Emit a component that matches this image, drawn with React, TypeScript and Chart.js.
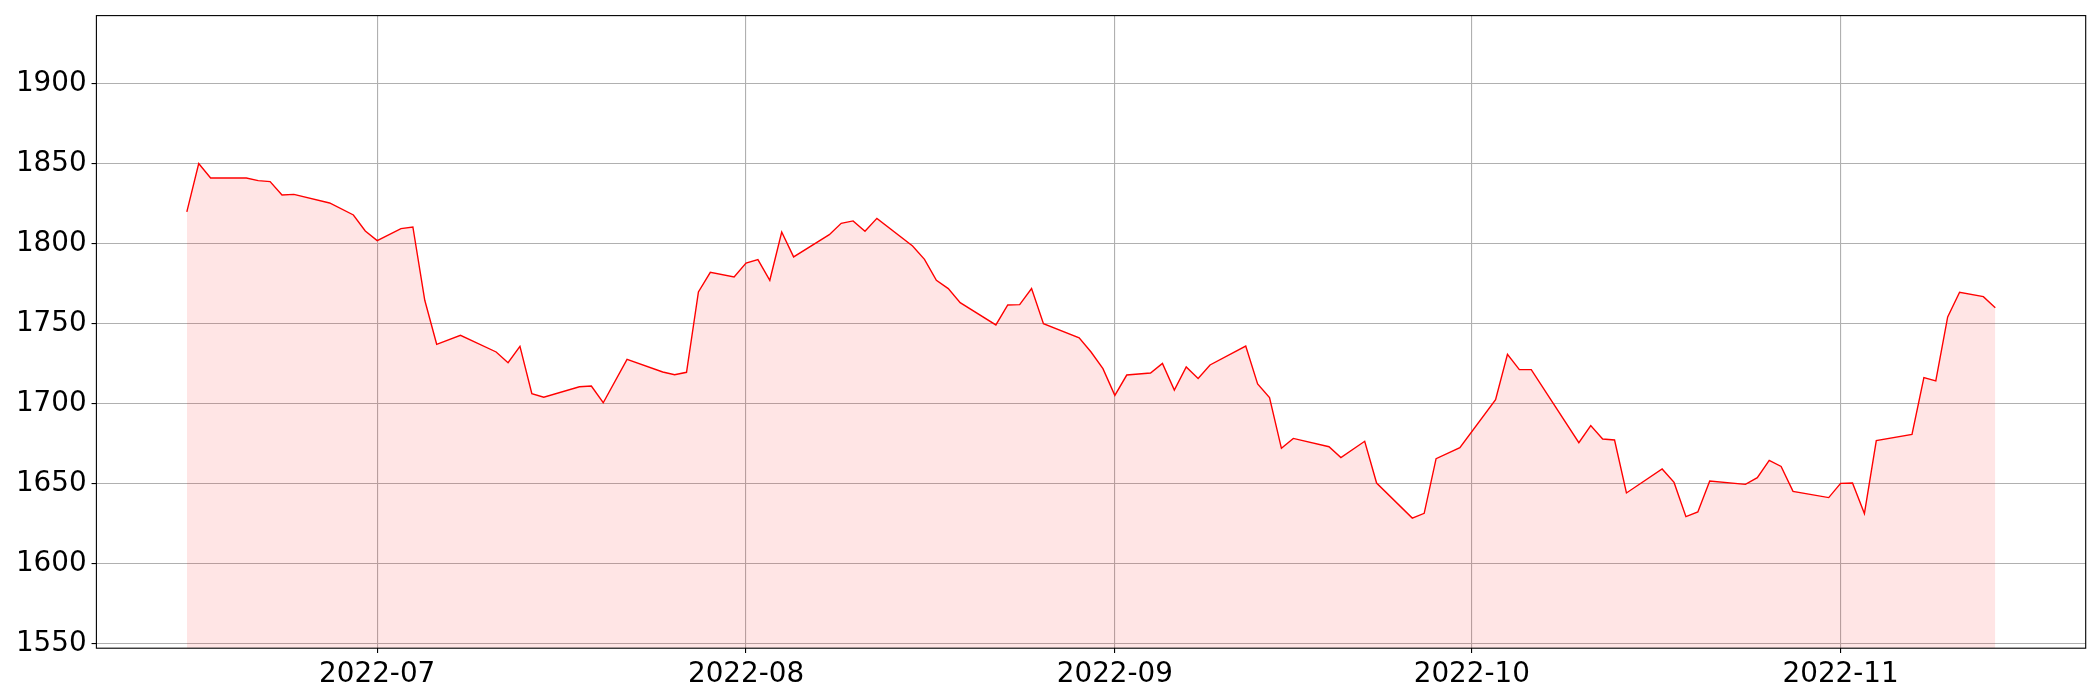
import React, { useEffect, useRef } from "react";
import { Chart, registerables } from "chart.js";

Chart.register(...registerables);

const dates: string[] = [
  "2022-06-15", "2022-06-16", "2022-06-17", "2022-06-20", "2022-06-21", "2022-06-22", "2022-06-23", "2022-06-24",
  "2022-06-27", "2022-06-29", "2022-06-30", "2022-07-01", "2022-07-03", "2022-07-04", "2022-07-05", "2022-07-06",
  "2022-07-08", "2022-07-11", "2022-07-12", "2022-07-13", "2022-07-14", "2022-07-15", "2022-07-18", "2022-07-19",
  "2022-07-20", "2022-07-22", "2022-07-25", "2022-07-26", "2022-07-27", "2022-07-28", "2022-07-29", "2022-07-31",
  "2022-08-01", "2022-08-02", "2022-08-03", "2022-08-04", "2022-08-05", "2022-08-08", "2022-08-09", "2022-08-10",
  "2022-08-11", "2022-08-12", "2022-08-15", "2022-08-16", "2022-08-17", "2022-08-18", "2022-08-19", "2022-08-22",
  "2022-08-23", "2022-08-24", "2022-08-25", "2022-08-26", "2022-08-29", "2022-08-30", "2022-08-31", "2022-09-01",
  "2022-09-02", "2022-09-04", "2022-09-05", "2022-09-06", "2022-09-07", "2022-09-08", "2022-09-09", "2022-09-12",
  "2022-09-13", "2022-09-14", "2022-09-15", "2022-09-16", "2022-09-19", "2022-09-20", "2022-09-22", "2022-09-23",
  "2022-09-26", "2022-09-27", "2022-09-28", "2022-09-30", "2022-10-03", "2022-10-04", "2022-10-05", "2022-10-06",
  "2022-10-10", "2022-10-11", "2022-10-12", "2022-10-13", "2022-10-14", "2022-10-17", "2022-10-18", "2022-10-19",
  "2022-10-20", "2022-10-21", "2022-10-24", "2022-10-25", "2022-10-26", "2022-10-27", "2022-10-28", "2022-10-31",
  "2022-11-01", "2022-11-02", "2022-11-03", "2022-11-04", "2022-11-07", "2022-11-08", "2022-11-09", "2022-11-10",
  "2022-11-11", "2022-11-13", "2022-11-14",
];

const prices: number[] = [
  1819.8, 1850.0, 1841.0, 1841.0, 1839.4, 1838.8, 1830.4, 1830.8,
  1825.4, 1817.9, 1807.9, 1801.9, 1809.4, 1810.4, 1764.6, 1737.1,
  1742.7, 1732.3, 1725.6, 1735.8, 1706.3, 1704.0, 1710.6, 1711.0,
  1700.6, 1727.7, 1719.8, 1718.1, 1719.6, 1769.8, 1782.1, 1779.2,
  1787.9, 1790.0, 1777.1, 1807.3, 1791.7, 1805.6, 1812.7, 1814.2,
  1807.7, 1815.8, 1798.5, 1790.2, 1777.1, 1771.9, 1763.1, 1749.2,
  1761.7, 1761.9, 1771.9, 1750.0, 1741.2, 1732.3, 1721.9, 1705.2,
  1717.9, 1719.2, 1725.2, 1708.5, 1722.9, 1715.8, 1724.2, 1736.0,
  1712.3, 1703.8, 1672.1, 1678.3, 1673.1, 1666.3, 1676.5, 1650.4,
  1628.5, 1631.5, 1665.6, 1672.5, 1702.5, 1730.8, 1721.3, 1721.3,
  1675.6, 1686.3, 1677.9, 1677.3, 1644.2, 1659.2, 1650.8, 1629.4,
  1632.3, 1651.7, 1649.6, 1653.8, 1664.6, 1660.8, 1645.2, 1641.3,
  1650.2, 1650.4, 1631.3, 1676.9, 1680.8, 1716.3, 1714.2, 1754.2,
  1769.6, 1766.9, 1760.0,
];

const yTickValues: number[] = [1550, 1600, 1650, 1700, 1750, 1800, 1850, 1900];
const xTickDates: string[] = ["2022-07-01", "2022-08-01", "2022-09-01", "2022-10-01", "2022-11-01"];
const xTickLabels: string[] = ["2022-07", "2022-08", "2022-09", "2022-10", "2022-11"];
const yLimits: number[] = [1547.2, 1942.5];

const DAY_MS = 86400000;
const toDay = (s: string) => Date.parse(s + "T00:00:00Z") / DAY_MS;

export default function App() {
  const canvasRef = useRef<HTMLCanvasElement | null>(null);

  useEffect(() => {
    document.body.style.margin = "0";
    const canvas = canvasRef.current;
    if (!canvas) return;

    const xs = dates.map(toDay);
    const span = xs[xs.length - 1] - xs[0];
    const xMin = xs[0] - 0.05 * span;
    const xMax = xs[xs.length - 1] + 0.05 * span;
    const xTickDays = xTickDates.map(toDay);

    const font = { family: "'DejaVu Sans', sans-serif", size: 27.8 };
    const lw = 1.11;
    const tickLen = 4.86;

    const framePlugin = {
      id: "frame",
      afterDraw(chart: any) {
        const { ctx, chartArea: a } = chart;
        ctx.save();
        ctx.strokeStyle = "#000";
        ctx.lineWidth = lw;
        ctx.strokeRect(a.left, a.top, a.right - a.left, a.bottom - a.top);
        ctx.restore();
      },
    };

    const chart = new Chart(canvas, {
      type: "line",
      data: {
        datasets: [
          {
            data: xs.map((x, i) => ({ x, y: prices[i] })),
            borderColor: "red",
            borderWidth: 1.4,
            backgroundColor: "rgba(255,0,0,0.1)",
            fill: "start",
            pointRadius: 0,
            tension: 0,
          },
        ],
      },
      options: {
        animation: false,
        responsive: false,
        devicePixelRatio: 1,
        layout: { padding: { top: 15.6, right: 14.3, left: 0, bottom: 0 } },
        plugins: { legend: { display: false }, tooltip: { enabled: false } },
        scales: {
          x: {
            type: "linear",
            min: xMin,
            max: xMax,
            afterBuildTicks: (s: any) => {
              s.ticks = xTickDays.map((v) => ({ value: v }));
            },
            afterFit: (s: any) => {
              s.height = 51.8;
              s.paddingLeft = 0;
              s.paddingRight = 0;
              s.paddingTop = 0;
              s.paddingBottom = 0;
            },
            ticks: {
              autoSkip: false,
              maxRotation: 0,
              minRotation: 0,
              padding: 4.86,
              color: "#000",
              font,
              callback: (v: any) => {
                const idx = xTickDays.findIndex((d) => Math.abs(d - Number(v)) < 1e-6);
                return idx >= 0 ? xTickLabels[idx] : "";
              },
            },
            grid: {
              color: "#b0b0b0",
              lineWidth: lw,
              drawTicks: true,
              tickLength: tickLen,
              tickColor: "#000",
              tickWidth: lw,
            },
            border: { display: false },
          },
          y: {
            type: "linear",
            min: yLimits[0],
            max: yLimits[1],
            afterBuildTicks: (s: any) => {
              s.ticks = yTickValues.map((v) => ({ value: v }));
            },
            afterFit: (s: any) => {
              s.width = 96.4;
              s.paddingLeft = 0;
              s.paddingRight = 0;
              s.paddingTop = 0;
              s.paddingBottom = 0;
            },
            ticks: {
              autoSkip: false,
              padding: 4.86,
              color: "#000",
              font,
              callback: (v: any) => String(v),
            },
            grid: {
              color: "#b0b0b0",
              lineWidth: lw,
              drawTicks: true,
              tickLength: tickLen,
              tickColor: "#000",
              tickWidth: lw,
            },
            border: { display: false },
          },
        },
      },
      plugins: [framePlugin],
    } as any);

    return () => {
      chart.destroy();
    };
  }, []);

  return (
    <div style={{ width: 2100, height: 700 }}>
      <canvas ref={canvasRef} width={2100} height={700} style={{ display: "block", width: 2100, height: 700 }} />
    </div>
  );
}
